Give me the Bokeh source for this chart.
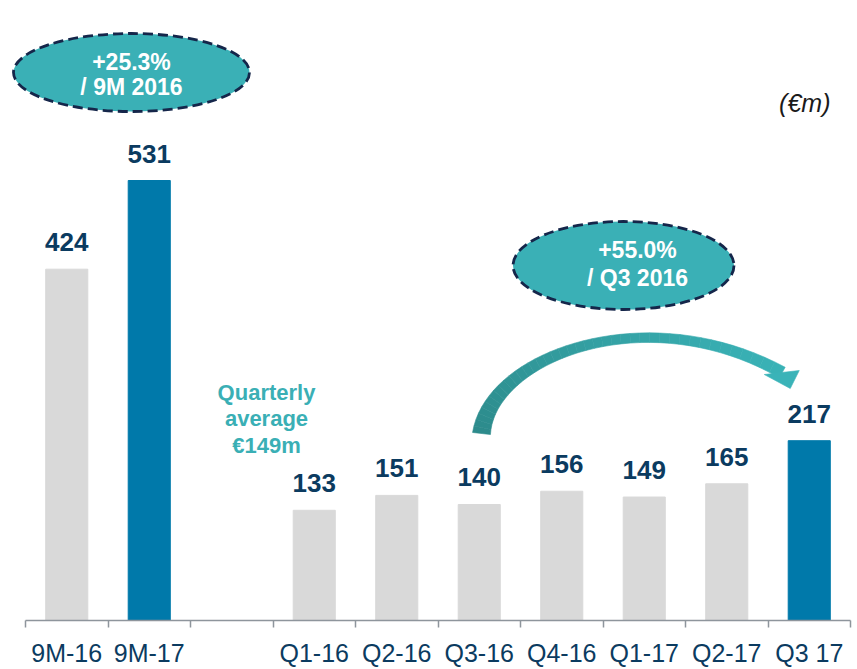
import numpy as np
from bokeh.plotting import figure
from bokeh.models import Range1d, FixedTicker, ColumnDataSource
from bokeh.core.properties import value
from bokeh.embed import file_html
from bokeh.resources import INLINE

# ---- data ----
categories = ["9M-16", "9M-17", "Q1-16", "Q2-16", "Q3-16", "Q4-16", "Q1-17", "Q2-17", "Q3 17"]
positions = [0, 1, 3, 4, 5, 6, 7, 8, 9]
values = [424, 531, 133, 151, 140, 156, 149, 165, 217]
highlight = [False, True, False, False, False, False, False, False, True]

bubble1_lines = ["+25.3%", "/ 9M 2016"]
bubble2_lines = ["+55.0%", "/ Q3 2016"]
avg_lines = ["Quarterly", "average", "\u20ac149m"]
unit_text = "(\u20acm)"

GREY = "#d9d9d9"
BLUE = "#0079aa"
NAVY = "#0b3b60"
TEAL = "#3ab0b6"
FONT = "Liberation Sans"

W, H = 853, 669
BORDER_R, BORDER_B = 3, 49
AXIS_LEFT_PX = 25                     # where the category axis starts
PX_X = 82.5
X_START = -0.5 - AXIS_LEFT_PX / PX_X  # frame starts at the canvas edge
X_END = X_START + (W - BORDER_R) / PX_X
FRAME_BOTTOM_PX = H - BORDER_B
PX_Y = 0.8286
Y_MAX = FRAME_BOTTOM_PX / PX_Y

def xd(px):
    return X_START + px / PX_X

def yd(py):
    return (FRAME_BOTTOM_PX - py) / PX_Y

p = figure(width=W, height=H, x_range=Range1d(X_START, X_END), y_range=Range1d(0, Y_MAX),
           output_backend="svg", toolbar_location=None, y_axis_location=None,
           min_border_left=0, min_border_right=BORDER_R, min_border_top=0,
           min_border_bottom=BORDER_B)
p.grid.visible = False
p.outline_line_color = None
p.background_fill_color = "white"
p.border_fill_color = "white"

src = ColumnDataSource(dict(x=positions, top=values, cat=categories,
                            color=[BLUE if h else GREY for h in highlight],
                            label=[str(v) for v in values]))
p.vbar(x="x", top="top", width=0.51, bottom=0, color="color", source=src)
p.text(x="x", y="top", text="label", source=src, text_font=value(FONT), text_font_style="bold",
       text_font_size="26px", text_color=NAVY, text_align="center", text_baseline="middle",
       y_offset=-27)

ax = p.xaxis[0]
ax.bounds = (-0.5, 9.5)
ax.ticker = FixedTicker(ticks=positions, minor_ticks=[i - 0.5 for i in range(11)])
ax.major_label_overrides = {pos: c for pos, c in zip(positions, categories)}
ax.major_tick_out = 0
ax.major_tick_in = 0
ax.minor_tick_out = 7
ax.minor_tick_in = 0
ax.minor_tick_line_color = "#8e959c"
ax.minor_tick_line_width = 1.5
ax.axis_line_color = "#8e959c"
ax.axis_line_width = 1.5
ax.major_label_text_font = FONT
ax.major_label_text_font_size = "25px"
ax.major_label_text_color = NAVY
ax.major_label_standoff = 11

# ---- curved arrow (Q3-16 -> Q3 17), drawn in screen pixels then mapped ----
P0 = np.array([481.0, 433.0])
P3 = np.array([781.75, 372.0])
P1 = P0 + np.array([9, -78])
P2 = P3 + np.array([-135, -75])
t = np.linspace(0, 1, 41)
pts = (((1 - t) ** 3)[:, None] * P0 + (3 * t * (1 - t) ** 2)[:, None] * P1
       + (3 * t ** 2 * (1 - t))[:, None] * P2 + (t ** 3)[:, None] * P3)
der = ((3 * (1 - t) ** 2)[:, None] * (P1 - P0) + (6 * t * (1 - t))[:, None] * (P2 - P1)
       + (3 * t ** 2)[:, None] * (P3 - P2))
der /= np.linalg.norm(der, axis=1)[:, None]
nrm = np.stack([-der[:, 1], der[:, 0]], axis=1)
w = 18 - 26 * t + 20 * t ** 2
L = pts + nrm * (w / 2)[:, None]
R = pts - nrm * (w / 2)[:, None]
c0 = np.array([0x2d, 0x8b, 0x8c])
c1 = np.array([0x3a, 0xb3, 0xb8])
xs, ys, cols = [], [], []
for k in range(len(t) - 1):
    quad = [L[k], L[k + 1], R[k + 1], R[k]]
    xs.append([xd(q[0]) for q in quad])
    ys.append([yd(q[1]) for q in quad])
    c = c0 + (c1 - c0) * t[k]
    cols.append("#%02x%02x%02x" % tuple(int(v) for v in c))
p.patches(xs=xs, ys=ys, fill_color=cols, line_color=cols, line_width=0.6)
head = [P3 + np.array([-18, 2]), P3 + np.array([17, -2]), P3 + np.array([8, 16])]
p.patch(x=[xd(h[0]) for h in head], y=[yd(h[1]) for h in head], fill_color="#3ab3b8",
        line_color="#3ab3b8", line_width=0.6)

# ---- bubbles ----
p.ellipse(x=[xd(131), xd(623)], y=[yd(72), yd(265)], width=[236, 221], height=[78, 88],
          width_units="screen", height_units="screen", fill_color=TEAL,
          line_color="#15264a", line_width=2.8, line_dash="10 5")
p.text(x=[xd(131)] * 2, y=[yd(61), yd(86)], text=bubble1_lines, text_font=value(FONT),
       text_font_style="bold", text_font_size="23px", text_color="white",
       text_align="center", text_baseline="middle")
p.text(x=[xd(637)] * 2, y=[yd(249.5), yd(277)], text=bubble2_lines, text_font=value(FONT),
       text_font_style="bold", text_font_size="23px", text_color="white",
       text_align="center", text_baseline="middle")

# ---- quarterly average note ----
p.text(x=[xd(266)] * 3, y=[yd(392), yd(418), yd(444.5)], text=avg_lines, text_font=value(FONT),
       text_font_style="bold", text_font_size="22px", text_color="#3aafb5",
       text_align="center", text_baseline="middle")

# ---- unit ----
p.text(x=[xd(830)], y=[yd(102)], text=[unit_text], text_font=value(FONT),
       text_font_style="italic", text_font_size="25px", text_color="#1a1a1a",
       text_align="right", text_baseline="middle")

open("out.html", "w").write(file_html(p, INLINE))
